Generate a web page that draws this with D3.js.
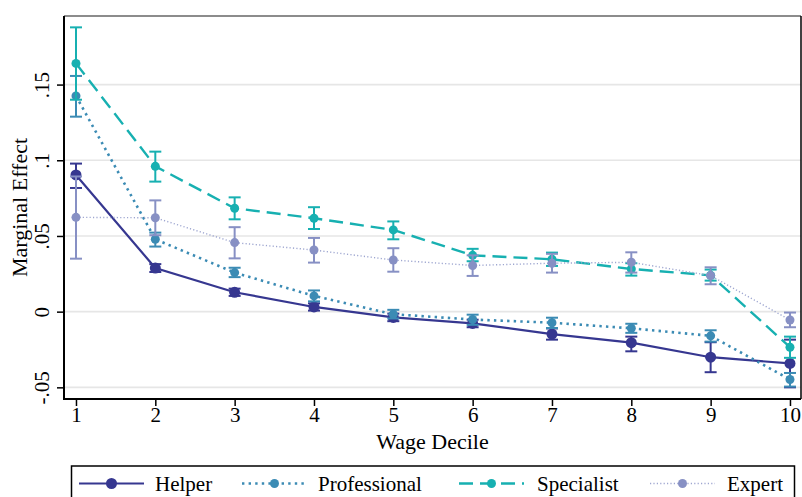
<!DOCTYPE html>
<html><head><meta charset="utf-8">
<script src="https://cdn.jsdelivr.net/npm/d3@7"></script>
<style>body{margin:0;background:#fff}svg{display:block}text{font-family:"Liberation Serif","Times New Roman",serif;fill:#000}</style>
</head><body><svg id="c" width="802" height="497"></svg>
<script>
const deciles = [1,2,3,4,5,6,7,8,9,10];
const yTicks = [-0.05, 0, 0.05, 0.1, 0.15];
const yTickLabels = ["-.05","0",".05",".1",".15"];
const seriesNames = ["Helper","Professional","Specialist","Expert"];

const helper    = [0.0903, 0.0288, 0.0128, 0.0031, -0.0038, -0.0078, -0.0148, -0.0205, -0.0301, -0.0342];
const helperLo  = [0.0817, 0.0262, 0.0104, 0.0007, -0.0063, -0.0103, -0.0185, -0.0262, -0.0400, -0.0500];
const helperHi  = [0.0978, 0.0314, 0.0152, 0.0055, -0.0013, -0.0053, -0.0111, -0.0165, -0.0202, -0.0185];

const prof      = [0.1425, 0.0478, 0.0258, 0.0104, -0.0017, -0.0052, -0.0073, -0.0110, -0.0160, -0.0448];
const profLo    = [0.1288, 0.0430, 0.0228, 0.0068, -0.0045, -0.0087, -0.0108, -0.0140, -0.0198, -0.0495];
const profHi    = [0.1557, 0.0522, 0.0290, 0.0140, 0.0012, -0.0020, -0.0040, -0.0080, -0.0123, -0.0405];

const spec      = [0.1640, 0.0960, 0.0683, 0.0617, 0.0540, 0.0372, 0.0346, 0.0282, 0.0240, -0.0235];
const specLo    = [0.1400, 0.0859, 0.0610, 0.0546, 0.0478, 0.0333, 0.0302, 0.0238, 0.0205, -0.0305];
const specHi    = [0.1878, 0.1057, 0.0755, 0.0690, 0.0596, 0.0415, 0.0390, 0.0320, 0.0278, -0.0165];

const expert    = [0.0623, 0.0620, 0.0456, 0.0407, 0.0341, 0.0305, 0.0320, 0.0326, 0.0238, -0.0055];
const expertLo  = [0.0350, 0.0505, 0.0352, 0.0324, 0.0264, 0.0236, 0.0258, 0.0258, 0.0181, -0.0103];
const expertHi  = [0.0893, 0.0735, 0.0558, 0.0487, 0.0419, 0.0372, 0.0382, 0.0392, 0.0293, -0.0006];

const series = [
  {name: seriesNames[0], v: helper, lo: helperLo, hi: helperHi, color: "#363790", width: 2.2, dash: null, r: 5.5},
  {name: seriesNames[1], v: prof, lo: profLo, hi: profHi, color: "#3b8bb4", width: 2.6, dash: "2.4,4.2", r: 4.5},
  {name: seriesNames[2], v: spec, lo: specLo, hi: specHi, color: "#17b0b1", width: 2.4, dash: "14,7", r: 4.5},
  {name: seriesNames[3], v: expert, lo: expertLo, hi: expertHi, color: "#8790c4", width: 1.4, dash: "1.2,2.2", r: 4.5, lineColor: "#9ea6d0"}
];

const svg = d3.select("#c");
const L = 64, R = 801, T = 16, B = 399;
const x = d3.scaleLinear().domain([0.849, 10.139]).range([L, R]);
const y = d3.scaleLinear().domain([-0.0577, 0.1953]).range([B, T]);

// gridlines
svg.append("g").selectAll("line").data(yTicks).join("line")
  .attr("x1", L).attr("x2", R).attr("y1", d => y(d)).attr("y2", d => y(d))
  .attr("stroke", "#e6e6e6").attr("stroke-width", 1.6);

// plot border top/right
svg.append("line").attr("x1", L).attr("x2", R).attr("y1", T).attr("y2", T).attr("stroke", "#666").attr("stroke-width", 1.5);
svg.append("line").attr("x1", R).attr("x2", R).attr("y1", T).attr("y2", B).attr("stroke", "#000").attr("stroke-width", 1.5);

// axes
const yAxis = d3.axisLeft(y).tickValues(yTicks).tickFormat((d,i) => yTickLabels[i]).tickSize(7).tickPadding(8);
const gy = svg.append("g").attr("transform", `translate(${L},0)`).call(yAxis);
gy.select(".domain").attr("stroke", "#000").attr("stroke-width", 2).attr("d", `M0,${T}V${B+1}`);
gy.selectAll(".tick line").attr("stroke", "#000").attr("stroke-width", 1.5);
gy.selectAll(".tick text").attr("font-size", 21).attr("font-family", "Liberation Serif")
  .attr("x", null).attr("dy", null)
  .attr("text-anchor", "middle")
  .attr("transform", "translate(-15.5,0) rotate(-90)");

const xAxis = d3.axisBottom(x).tickValues(deciles).tickFormat(d3.format("d")).tickSize(7).tickPadding(2);
const gx = svg.append("g").attr("transform", `translate(0,${B})`).call(xAxis);
gx.select(".domain").attr("stroke", "#000").attr("stroke-width", 2).attr("d", `M${L-1},0H${R}`);
gx.selectAll(".tick line").attr("stroke", "#000").attr("stroke-width", 1.5);
gx.selectAll(".tick text").attr("font-size", 21).attr("font-family", "Liberation Serif").attr("dy", "0.66em");

// titles
svg.append("text").attr("x", (L+R)/2).attr("y", 449).attr("text-anchor", "middle").attr("font-size", 22).text("Wage Decile");
svg.append("text").attr("transform", `translate(27,${(T+B)/2}) rotate(-90)`).attr("text-anchor", "middle").attr("font-size", 22).text("Marginal Effect");

// series
const plot = svg.append("g");
series.forEach(s => {
  const g = plot.append("g");
  const line = d3.line().x((d,i) => x(deciles[i])).y(d => y(d));
  g.append("path").attr("d", line(s.v)).attr("fill", "none")
    .attr("stroke", s.lineColor || s.color).attr("stroke-width", s.width)
    .attr("stroke-dasharray", s.dash);
  const eb = g.selectAll("g.eb").data(deciles).join("g");
  eb.append("line").attr("x1", d => x(d)).attr("x2", d => x(d))
    .attr("y1", (d,i) => y(s.lo[i])).attr("y2", (d,i) => y(s.hi[i]))
    .attr("stroke", s.color).attr("stroke-width", 2);
  [s.lo, s.hi].forEach(arr => {
    eb.append("line").attr("x1", d => x(d) - 6).attr("x2", d => x(d) + 6)
      .attr("y1", (d,i) => y(arr[i])).attr("y2", (d,i) => y(arr[i]))
      .attr("stroke", s.color).attr("stroke-width", 2);
  });
  g.selectAll("circle").data(s.v).join("circle")
    .attr("cx", (d,i) => x(deciles[i])).attr("cy", d => y(d)).attr("r", s.r).attr("fill", s.color);
});

// legend
const leg = svg.append("g");
leg.append("rect").attr("x", 71.5).attr("y", 466).attr("width", 723).attr("height", 60)
  .attr("fill", "#fff").attr("stroke", "#000").attr("stroke-width", 1.5);
const legX = [79, 242, 459, 650];
const legTX = [155, 318, 537, 727];
series.forEach((s, i) => {
  leg.append("line").attr("x1", legX[i]).attr("x2", legX[i] + 65).attr("y1", 483.5).attr("y2", 483.5)
    .attr("stroke", s.lineColor || s.color).attr("stroke-width", s.width).attr("stroke-dasharray", s.dash);
  leg.append("circle").attr("cx", legX[i] + 32.5).attr("cy", 483.5).attr("r", s.r).attr("fill", s.color);
  leg.append("text").attr("x", legTX[i]).attr("y", 491).attr("font-size", 21).text(s.name);
});
</script></body></html>
